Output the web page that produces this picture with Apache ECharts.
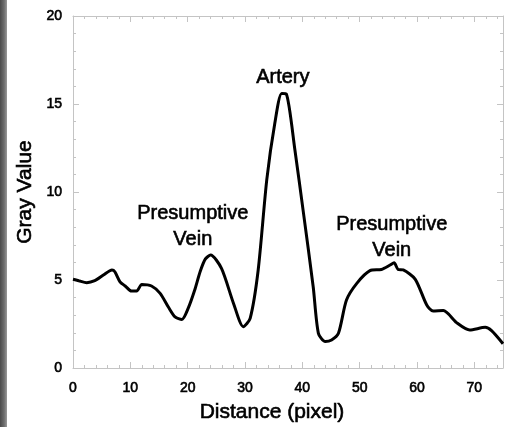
<!DOCTYPE html>
<html>
<head>
<meta charset="utf-8">
<script src="https://cdn.jsdelivr.net/npm/echarts@6/dist/echarts.min.js"></script>
<style>html,body{margin:0;padding:0;background:#fff;}#c{width:507px;height:427px;}</style>
</head>
<body>
<div id="c"></div>
<script>
const distance = [0, 1, 2.4, 3.8, 5.3, 6.8, 7.3, 8.2, 9.1, 10.2, 11.1, 12, 13.7, 15.2, 16.6, 17.8, 19, 20.1, 21.2, 22.2, 23.1, 24, 25.9, 28, 29.7, 30.9, 32.3, 33.8, 35.2, 36.4, 37.2, 38.7, 40.2, 41.9, 42.8, 44, 45.1, 46.3, 47.7, 49.5, 51.8, 53.8, 55.3, 56, 56.7, 57.6, 59.7, 61.7, 62.8, 64.6, 66.9, 69.2, 71.9, 73, 75];
const grayValue = [5.04, 4.96, 4.85, 4.96, 5.28, 5.57, 5.47, 4.9, 4.66, 4.37, 4.37, 4.75, 4.66, 4.24, 3.48, 2.9, 2.76, 3.4, 4.4, 5.5, 6.2, 6.42, 5.66, 3.67, 2.35, 2.82, 5.57, 10.7, 13.9, 15.6, 15.57, 12.4, 8.8, 4.6, 1.97, 1.5, 1.59, 1.97, 3.86, 4.81, 5.53, 5.6, 5.85, 5.98, 5.6, 5.57, 5.04, 3.58, 3.24, 3.26, 2.58, 2.16, 2.31, 2.12, 1.38];
const annotations = [
  {name: 'Artery', x: 36.6, y: 16.5},
  {name: 'Presumptive\nVein', x: 20.9, y: 8.04},
  {name: 'Presumptive\nVein', x: 55.6, y: 7.41}
];
const xTicks = [0, 10, 20, 30, 40, 50, 60, 70];
const yTicks = [0, 5, 10, 15, 20];

const FONT = '"Liberation Sans", Arial, Helvetica, sans-serif';
const AX = '#c4c4c4';
const chart = echarts.init(document.getElementById('c'), null, {renderer: 'canvas'});

const thick = {textBorderColor: '#000', textBorderWidth: 0.6};

function axisCommon(showLabel) {
  return {
    axisLine: {show: true, onZero: false, lineStyle: {color: AX, width: 1}},
    axisTick: {show: true, inside: true, length: 6, lineStyle: {color: AX}},
    minorTick: {show: true, splitNumber: 5, length: 3, lineStyle: {color: AX}},
    splitLine: {show: false},
    axisLabel: {show: showLabel, color: '#000', fontSize: 14, fontFamily: FONT}
  };
}

const option = {
  backgroundColor: '#fff',
  animation: false,
  grid: {left: 73, right: 4, top: 16, bottom: 59, containLabel: false},
  xAxis: [
    Object.assign({type: 'value', min: 0, max: 75, interval: 10, position: 'bottom'}, axisCommon(true), {
      axisLabel: Object.assign({show: true, color: '#000', fontSize: 14, fontFamily: FONT, margin: 13,
        formatter: v => xTicks.includes(v) ? String(v) : ''}, thick)
    }),
    Object.assign({type: 'value', min: 0, max: 75, interval: 10, position: 'top'}, axisCommon(false))
  ],
  yAxis: [
    Object.assign({type: 'value', min: 0, max: 20, interval: 5, position: 'left'}, axisCommon(true), {
      axisLabel: Object.assign({show: true, color: '#000', fontSize: 14, fontFamily: FONT, margin: 11,
        formatter: v => yTicks.includes(v) ? String(v) : ''}, thick)
    }),
    Object.assign({type: 'value', min: 0, max: 20, interval: 5, position: 'right'}, axisCommon(false))
  ],
  graphic: [
    {type: 'rect', left: 0, top: 0, shape: {width: 7, height: 427}, silent: true,
      style: {fill: new echarts.graphic.LinearGradient(0, 0, 1, 0, [
        {offset: 0, color: '#4a4a4a'}, {offset: 0.6, color: '#6e6e6e'}, {offset: 1, color: '#9a9a9a'}])}},
    {type: 'text', x: 272, y: 412, silent: true,
      style: Object.assign({text: 'Distance (pixel)', fill: '#000', font: '21px ' + FONT, textAlign: 'center', textVerticalAlign: 'middle', stroke: '#000', lineWidth: 0.6})},
    {type: 'text', x: 25, y: 192, rotation: Math.PI / 2, silent: true,
      style: Object.assign({text: 'Gray Value', fill: '#000', font: '21px ' + FONT, textAlign: 'center', textVerticalAlign: 'middle', stroke: '#000', lineWidth: 0.6})}
  ],
  series: [{
    type: 'line',
    xAxisIndex: 0, yAxisIndex: 0,
    data: distance.map((d, i) => [d, grayValue[i]]),
    showSymbol: false,
    smooth: 0.25,
    lineStyle: {color: '#000', width: 3},
    markPoint: {
      symbol: 'circle', symbolSize: 1,
      itemStyle: {color: 'rgba(0,0,0,0)'},
      label: Object.assign({show: true, position: 'inside', formatter: '{b}', color: '#000', fontSize: 20, lineHeight: 26, fontFamily: FONT, align: 'center'}, thick),
      data: annotations.map(a => ({name: a.name, coord: [a.x, a.y]}))
    }
  }]
};
chart.setOption(option);
</script>
</body>
</html>
